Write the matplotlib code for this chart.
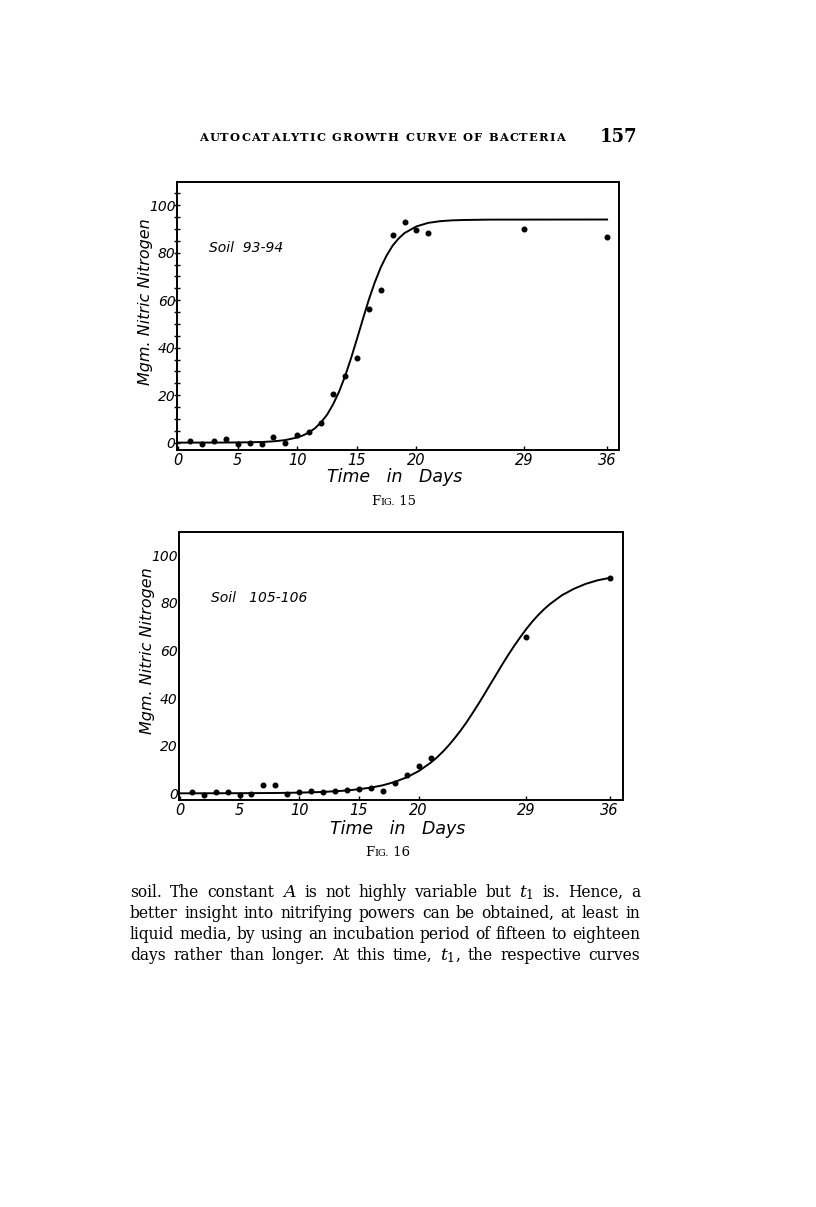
import matplotlib
matplotlib.use('Agg')
import matplotlib.pyplot as plt
from matplotlib.ticker import MultipleLocator

W, H = 816, 1207

# Fig. 15 - Soil 93-94
days1 = [1, 2, 3, 4, 5, 6, 7, 8, 9, 10, 11, 12, 13, 14, 15, 16, 17, 18, 19, 20, 21, 29, 36]
nitro1 = [0.7, -0.7, 0.7, 1.5, -0.7, 0.0, -0.4, 2.4, 0.0, 3.0, 4.6, 8.3, 20.4, 28.0, 35.8,
          56.5, 64.5, 87.6, 93.0, 89.5, 88.3, 90.0, 86.5]
curve1_x = [0, 4, 6, 7, 8, 9, 10, 10.5, 11, 11.5, 12, 12.5, 13, 13.5, 14, 14.5, 15, 15.5,
            16, 16.5, 17, 17.5, 18, 18.5, 19, 20, 21, 22, 23, 24, 26, 36]
curve1_y = [0.0, 0.03, 0.13, 0.26, 0.53, 1.07, 2.18, 3.09, 4.37, 6.14, 8.57, 11.8, 16.1,
            21.4, 27.9, 35.4, 43.6, 52.0, 60.2, 67.5, 73.8, 78.9, 83.0, 86.0, 88.3, 91.1,
            92.6, 93.3, 93.65, 93.8, 93.95, 94.0]

# Fig. 16 - Soil 105-106
days2 = [1, 2, 3, 4, 5, 6, 7, 8, 9, 10, 11, 12, 13, 14, 15, 16, 17, 18, 19, 20, 21, 29, 36]
nitro2 = [0.7, -0.6, 0.4, 0.7, -0.8, -0.3, 3.4, 3.4, -0.1, 0.7, 1.1, 0.4, 1.0, 1.4, 1.7,
          2.2, 1.1, 4.5, 7.6, 11.5, 15.0, 65.7, 90.4]
curve2_x = [0, 5, 8, 10, 12, 14, 15, 16, 17, 18, 19, 20, 21, 21.5, 22, 22.5, 23, 23.5, 24,
            24.5, 25, 25.5, 26, 26.5, 27, 27.5, 28, 28.5, 29, 29.5, 30, 30.5, 31, 32, 33,
            34, 35, 36]
curve2_y = [0.0, 0.05, 0.14, 0.29, 0.58, 1.18, 1.75, 2.38, 3.37, 4.77, 6.7, 9.3, 12.8, 14.9,
            17.3, 20.0, 23.0, 26.2, 29.7, 33.5, 37.4, 41.5, 45.7, 49.8, 54.0, 58.0, 61.8,
            65.4, 68.8, 71.9, 74.7, 77.2, 79.4, 83.1, 85.8, 87.9, 89.4, 90.4]

xticks = [0, 5, 10, 15, 20, 29, 36]
xlabels = ['0', '5', '10', '15', '20', '29', '36']
yticks = [0, 20, 40, 60, 80, 100]

header = 'AUTOCATALYTIC GROWTH CURVE OF BACTERIA'
page_no = '157'
body = [
    'soil. The constant $A$ is not highly variable but $t_1$ is. Hence, a',
    'better insight into nitrifying powers can be obtained, at least in',
    'liquid media, by using an incubation period of fifteen to eighteen',
    'days rather than longer. At this time, $t_1$, the respective curves',
]

plt.rcParams['mathtext.fontset'] = 'dejavuserif'
hand = dict(family='DejaVu Sans', style='oblique')
serif = 'DejaVu Serif'

fig = plt.figure(figsize=(W / 100, H / 100), dpi=100)
fig.patch.set_facecolor('white')
renderer = fig.canvas.get_renderer()


def px(x, y):
    return x / W, 1 - y / H


def make_panel(box, xlim, ylim, cx, cy, dx, dy, label, ticks_left, lab_y):
    ax = fig.add_axes(box)
    ax.plot(cx, cy, color='black', lw=1.4)
    ax.plot(dx, dy, 'o', color='black', ms=3.3)
    ax.set_xlim(*xlim)
    ax.set_ylim(*ylim)
    ax.set_xticks(xticks)
    ax.set_xticklabels(xlabels, fontsize=10.5, **hand)
    ax.set_yticks(yticks)
    ax.set_yticklabels([str(v) for v in yticks], fontsize=10, **hand)
    for s in ax.spines.values():
        s.set_linewidth(1.4)
    ax.tick_params(axis='x', direction='in', length=3, width=1, pad=2)
    if ticks_left:
        ax.yaxis.set_minor_locator(MultipleLocator(5))
        ax.tick_params(axis='y', which='both', direction='inout', length=5, width=1, pad=-1.5)
    else:
        ax.tick_params(axis='y', length=0, pad=1)
    ax.set_ylabel('Mgm. Nitric Nitrogen', fontsize=11.5, **hand)
    ax.yaxis.set_label_coords(-0.054, 0.555)
    ax.set_xlabel('Time   in   Days', fontsize=12.5, **hand)
    ax.xaxis.set_label_coords(0.492, lab_y)
    ax.text(2.6, 82, label, fontsize=10, va='center', **hand)
    return ax


make_panel([0.2169, 0.6272, 0.5417, 0.2220], (-0.1, 37.0), (-3.1, 109.8),
           curve1_x, curve1_y, days1, nitro1, 'Soil  93-94', True, -0.067)
make_panel([0.2197, 0.3372, 0.5434, 0.2223], (-0.05, 37.1), (-2.8, 109.8),
           curve2_x, curve2_y, days2, nitro2, 'Soil   105-106', False, -0.0745)


def caption(num, xc, yb):
    pieces = [('F', 9.5), ('IG.', 7.0), (' ' + num, 9.5)]
    ts, ws = [], []
    for s, size in pieces:
        t = fig.text(0, 0, s, fontsize=size, family=serif, va='baseline')
        ts.append(t)
        ws.append(t.get_window_extent(renderer).width)
    x = xc - sum(ws) / 2
    for t, w in zip(ts, ws):
        t.set_position(px(x, yb))
        x += w


caption('15', 394, 505)
caption('16', 388, 856)

# running head, letter spaced
chars = list(header)
hts, hws = [], []
for c in chars:
    t = fig.text(0, 0, c if c != ' ' else '', fontsize=8.2, weight='bold',
                 family=serif, va='baseline')
    hts.append(t)
    hws.append(t.get_window_extent(renderer).width if c != ' ' else 4.0)
gap = (565 - 199 - sum(hws)) / (len(chars) - 1)
x = 199
for t, w in zip(hts, hws):
    t.set_position(px(x, 141))
    x += w + gap
fig.text(*px(637, 141.5), page_no, fontsize=13, family=serif, weight='bold',
         ha='right', va='baseline')

# body text, justified word by word
size = 12.6
lines = []
for line in body:
    words = line.split(' ')
    ts = [fig.text(0, 0, w, fontsize=size, family=serif, fontstretch='condensed',
                   va='baseline') for w in words]
    lines.append((ts, [t.get_window_extent(renderer).width for t in ts]))
need = max((sum(ws) + 5.0 * (len(ws) - 1)) / 510 for ts, ws in lines)
if need > 1:
    for ts, ws in lines:
        for t in ts:
            t.set_fontsize(size / need)
    lines = [(ts, [t.get_window_extent(renderer).width for t in ts]) for ts, _ in lines]
for i, (ts, ws) in enumerate(lines):
    gap = (640 - 130 - sum(ws)) / (len(ts) - 1)
    x = 130
    for t, w in zip(ts, ws):
        t.set_position(px(x, 897 + 21 * i))
        x += w + gap

fig.savefig('out.png', dpi=100)
